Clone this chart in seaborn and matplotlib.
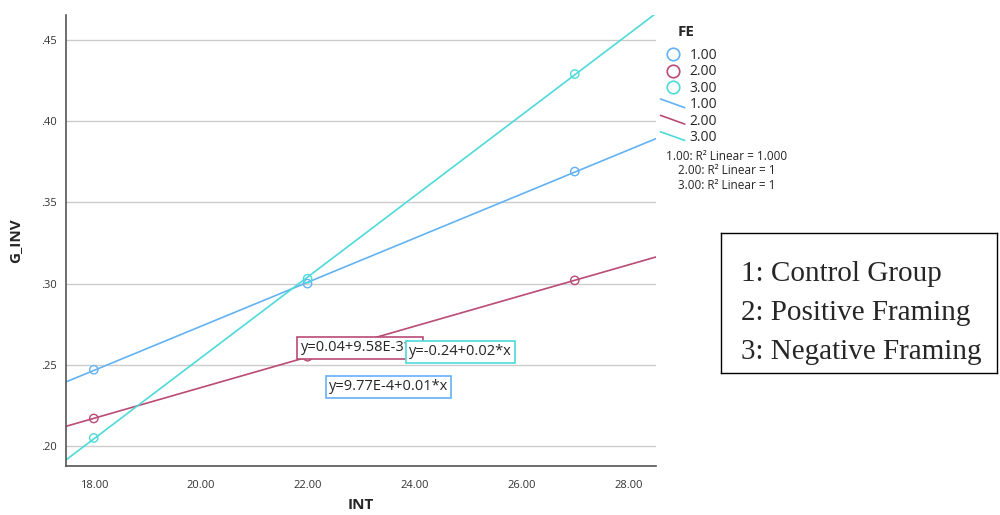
import matplotlib

matplotlib.use("Agg")
import matplotlib.pyplot as plt
import pandas as pd
import seaborn as sns
from matplotlib.legend_handler import HandlerBase
from matplotlib.lines import Line2D
from matplotlib.ticker import FuncFormatter

# valores
int_vals = [18, 22, 27]
g_inv_fe1 = [0.247, 0.300, 0.369]
g_inv_fe2 = [0.217, 0.255, 0.302]
g_inv_fe3 = [0.205, 0.303, 0.429]
fe_labels = ["1.00", "2.00", "3.00"]
ecuaciones = ["y=9.77E-4+0.01*x", "y=0.04+9.58E-3*x", "y=-0.24+0.02*x"]
r2_textos = ["1.00: R² Linear = 1.000", "2.00: R² Linear = 1", "3.00: R² Linear = 1"]
grupos_texto = ["1: Control Group", "2: Positive Framing", "3: Negative Framing"]
y_ticks = [0.20, 0.25, 0.30, 0.35, 0.40, 0.45]
x_ticks = [18, 20, 22, 24, 26, 28]

colores = ["#62b2f4", "#b94b74", "#4edada"]

df = pd.DataFrame(
    {
        "INT": int_vals * 3,
        "G_INV": g_inv_fe1 + g_inv_fe2 + g_inv_fe3,
        "FE": [fe for fe in fe_labels for _ in int_vals],
    }
)


class HandlerDiagonal(HandlerBase):
    def create_artists(self, legend, orig_handle, xdescent, ydescent,
                       width, height, fontsize, trans):
        linea = Line2D(
            [-xdescent, -xdescent + width],
            [-ydescent + height * 0.95, -ydescent + height * 0.05],
            color=orig_handle.get_color(),
            lw=orig_handle.get_linewidth(),
            transform=trans,
        )
        return [linea]


sns.set_style("white")
plt.rcParams["font.family"] = ["Open Sans", "DejaVu Sans"]

fig = plt.figure(figsize=(10, 5.15), dpi=100)
ax = fig.add_axes([0.066, 0.095, 0.590, 0.876])
ax.set_xlim(17.48, 28.52)
ax.set_ylim(0.1877, 0.4654)

for y in y_ticks:
    ax.axhline(y, color="#cccccc", lw=1, zorder=0)

for fe, color in zip(fe_labels, colores):
    sub = df[df["FE"] == fe]
    sns.regplot(
        data=sub,
        x="INT",
        y="G_INV",
        ci=None,
        truncate=False,
        ax=ax,
        color=color,
        scatter_kws={"facecolors": "none", "s": 36, "linewidths": 1, "alpha": 1, "zorder": 3},
        line_kws={"lw": 1.2, "zorder": 2},
    )

# etiquetas de ecuaciones
caja = dict(boxstyle="square,pad=0.22", fc="white", lw=1.2)
ax.text(21.87, 0.2605, ecuaciones[1], fontsize=10.5, va="center", zorder=5,
        bbox={**caja, "ec": colores[1]})
ax.text(23.90, 0.2580, ecuaciones[2], fontsize=10.5, va="center", zorder=6,
        bbox={**caja, "ec": colores[2]})
ax.text(22.40, 0.2365, ecuaciones[0], fontsize=10.5, va="center", zorder=5,
        bbox={**caja, "ec": colores[0]})

ax.set_xticks(x_ticks)
ax.set_yticks(y_ticks)
ax.xaxis.set_major_formatter(FuncFormatter(lambda v, p: f"{v:.2f}"))
ax.yaxis.set_major_formatter(FuncFormatter(lambda v, p: f"{v:.2f}".lstrip("0")))
ax.tick_params(axis="both", labelsize=8, colors="#333333", length=3, width=0.8)
ax.tick_params(axis="x", length=0, pad=10)
for lado in ["top", "right"]:
    ax.spines[lado].set_visible(False)
for lado in ["left", "bottom"]:
    ax.spines[lado].set_color("#555555")
    ax.spines[lado].set_linewidth(1.2)
ax.set_xlabel("INT", fontsize=11, fontweight="bold", labelpad=5)
ax.set_ylabel("G_INV", fontsize=11, fontweight="bold", labelpad=14)

# leyenda
handles = [
    Line2D([], [], marker="o", ls="none", mfc="none", mec=c, ms=9, mew=1.2)
    for c in colores
] + [Line2D([], [], color=c, lw=1.2) for c in colores]
leg = fig.legend(
    handles,
    fe_labels + fe_labels,
    loc="upper left",
    bbox_to_anchor=(0.648, 0.931),
    frameon=False,
    fontsize=10,
    handlelength=1.75,
    handletextpad=0.36,
    labelspacing=0.10,
    handler_map={h: HandlerDiagonal() for h in handles[3:]},
)
fig.text(0.678, 1 - 32 / 515, "FE", fontsize=11, fontweight="bold", va="center")

for i, txt in enumerate(r2_textos):
    fig.text(0.727, 1 - (157 + 14 * i) / 515, txt, fontsize=8.5, ha="center", va="center")

# cuadro de grupos
ax_caja = fig.add_axes([0.721, 1 - 373 / 515, 0.276, 140 / 515])
ax_caja.set_xticks([])
ax_caja.set_yticks([])
for s in ax_caja.spines.values():
    s.set_visible(True)
    s.set_color("black")
    s.set_linewidth(1)
for txt, yy in zip(grupos_texto, [0.657, 0.379, 0.10]):
    ax_caja.text(0.072, yy, txt, fontsize=21, family="Liberation Serif",
                 va="baseline", ha="left", clip_on=True, transform=ax_caja.transAxes)

fig.savefig("out.png", dpi=100)
